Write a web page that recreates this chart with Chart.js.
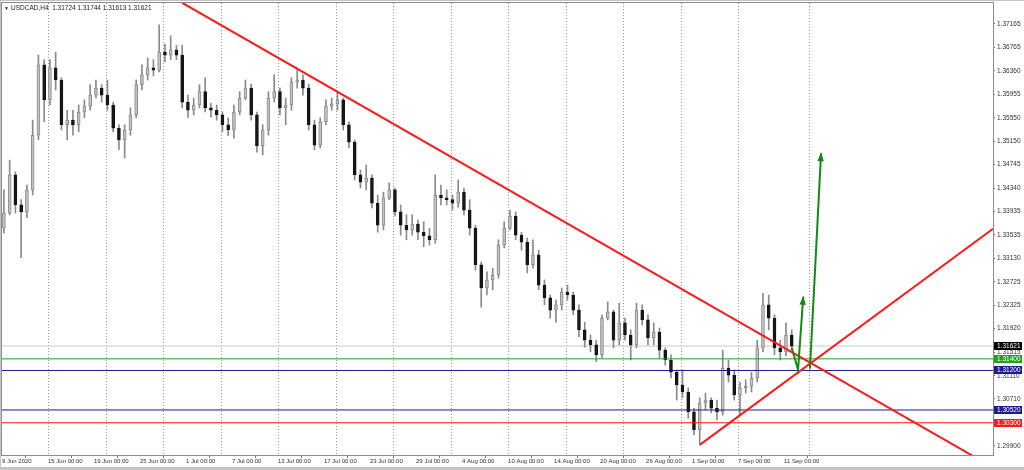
<!DOCTYPE html>
<html>
<head>
<meta charset="utf-8">
<script src="https://cdn.jsdelivr.net/npm/chart.js@4.4.1/dist/chart.umd.min.js"></script>
<style>
  html, body { margin: 0; padding: 0; background: #fff; }
  #wrap { width: 1024px; height: 470px; }
</style>
</head>
<body>
<div id="wrap"><canvas id="c" width="1024" height="470"></canvas></div>
<script>
// USDCAD H4, 9 Jun - 11 Sep 2020 (each candle here groups three H4 bars)
const symbolName = 'USDCAD,H4';
const lastQuote = [1.31724, 1.31744, 1.31613, 1.31621];

const opens = [
  1.3365, 1.3391, 1.3457, 1.3405, 1.3393, 1.3431, 1.3525, 1.3646, 1.3586, 1.3641,
  1.3620, 1.3543, 1.3551, 1.3543, 1.3565, 1.3575, 1.3594, 1.3606, 1.3594, 1.3577,
  1.3537, 1.3517, 1.3534, 1.3560, 1.3612, 1.3629, 1.3641, 1.3637, 1.3668, 1.3663,
  1.3672, 1.3663, 1.3582, 1.3568, 1.3577, 1.3600, 1.3572, 1.3568, 1.3560, 1.3543,
  1.3534, 1.3565, 1.3589, 1.3606, 1.3560, 1.3507, 1.3534, 1.3589, 1.3600, 1.3572,
  1.3577, 1.3617, 1.3620, 1.3606, 1.3543, 1.3508, 1.3548, 1.3575, 1.3579, 1.3586,
  1.3543, 1.3513, 1.3457, 1.3444, 1.3451, 1.3408, 1.3370, 1.3417, 1.3431, 1.3393,
  1.3370, 1.3362, 1.3372, 1.3358, 1.3352, 1.3345, 1.3422, 1.3417, 1.3414, 1.3408,
  1.3427, 1.3396, 1.3365, 1.3302, 1.3262, 1.3276, 1.3284, 1.3336, 1.3365, 1.3386,
  1.3353, 1.3341, 1.3302, 1.3319, 1.3267, 1.3245, 1.3224, 1.3233, 1.3255, 1.3250,
  1.3224, 1.3190, 1.3172, 1.3164, 1.3147, 1.3210, 1.3221, 1.3172, 1.3202, 1.3181,
  1.3164, 1.3224, 1.3207, 1.3176, 1.3186, 1.3155, 1.3138, 1.3117, 1.3095, 1.3083,
  1.3049, 1.3018, 1.3064, 1.3069, 1.3055, 1.3049, 1.3124, 1.3112, 1.3078, 1.3090,
  1.3093, 1.3107, 1.3159, 1.3233, 1.3210, 1.3159, 1.3152, 1.3181
];
const highs = [
  1.3431, 1.3482, 1.3462, 1.3414, 1.3439, 1.3551, 1.3663, 1.3655, 1.3655, 1.3668,
  1.3624, 1.3568, 1.3568, 1.3577, 1.3586, 1.3612, 1.3620, 1.3612, 1.3620, 1.3582,
  1.3543, 1.3543, 1.3572, 1.3620, 1.3646, 1.3658, 1.3655, 1.3715, 1.3682, 1.3696,
  1.3680, 1.3680, 1.3594, 1.3589, 1.3612, 1.3624, 1.3580, 1.3577, 1.3565, 1.3555,
  1.3577, 1.3600, 1.3620, 1.3613, 1.3565, 1.3543, 1.3600, 1.3629, 1.3606, 1.3589,
  1.3624, 1.3641, 1.3629, 1.3613, 1.3551, 1.3555, 1.3586, 1.3589, 1.3600, 1.3589,
  1.3548, 1.3517, 1.3465, 1.3474, 1.3457, 1.3422, 1.3427, 1.3443, 1.3434, 1.3405,
  1.3388, 1.3388, 1.3379, 1.3376, 1.3365, 1.3457, 1.3439, 1.3431, 1.3422, 1.3448,
  1.3434, 1.3414, 1.3370, 1.3307, 1.3290, 1.3296, 1.3345, 1.3376, 1.3396, 1.3393,
  1.3358, 1.3348, 1.3345, 1.3327, 1.3276, 1.3250, 1.3241, 1.3262, 1.3267, 1.3255,
  1.3233, 1.3203, 1.3181, 1.3172, 1.3216, 1.3238, 1.3224, 1.3236, 1.3210, 1.3190,
  1.3236, 1.3233, 1.3216, 1.3202, 1.3193, 1.3159, 1.3147, 1.3121, 1.3121, 1.3090,
  1.3055, 1.3073, 1.3081, 1.3073, 1.3069, 1.3155, 1.3138, 1.3121, 1.3100, 1.3104,
  1.3117, 1.3172, 1.3253, 1.3250, 1.3216, 1.3172, 1.3202, 1.3190
];
const lows = [
  1.3357, 1.3388, 1.3391, 1.3314, 1.3383, 1.3422, 1.3517, 1.3548, 1.3577, 1.3603,
  1.3534, 1.3517, 1.3525, 1.3531, 1.3555, 1.3568, 1.3589, 1.3582, 1.3568, 1.3531,
  1.3500, 1.3486, 1.3525, 1.3555, 1.3603, 1.3620, 1.3627, 1.3634, 1.3651, 1.3655,
  1.3655, 1.3572, 1.3555, 1.3560, 1.3572, 1.3565, 1.3556, 1.3551, 1.3531, 1.3524,
  1.3520, 1.3560, 1.3586, 1.3551, 1.3496, 1.3491, 1.3525, 1.3582, 1.3560, 1.3543,
  1.3568, 1.3606, 1.3594, 1.3534, 1.3500, 1.3503, 1.3543, 1.3568, 1.3568, 1.3534,
  1.3503, 1.3448, 1.3434, 1.3431, 1.3400, 1.3358, 1.3362, 1.3414, 1.3386, 1.3353,
  1.3345, 1.3353, 1.3345, 1.3333, 1.3336, 1.3339, 1.3405, 1.3405, 1.3396, 1.3401,
  1.3388, 1.3353, 1.3293, 1.3229, 1.3250, 1.3259, 1.3279, 1.3331, 1.3362, 1.3345,
  1.3327, 1.3288, 1.3296, 1.3259, 1.3233, 1.3210, 1.3203, 1.3224, 1.3241, 1.3216,
  1.3178, 1.3160, 1.3152, 1.3135, 1.3141, 1.3207, 1.3159, 1.3164, 1.3172, 1.3138,
  1.3159, 1.3198, 1.3164, 1.3164, 1.3141, 1.3129, 1.3107, 1.3069, 1.3073, 1.3038,
  1.3009, 1.2992, 1.3052, 1.3047, 1.3035, 1.3043, 1.3100, 1.3069, 1.3043, 1.3081,
  1.3083, 1.3100, 1.3152, 1.3190, 1.3147, 1.3138, 1.3145, 1.3155
];
const closes = [
  1.3391, 1.3457, 1.3405, 1.3393, 1.3431, 1.3525, 1.3646, 1.3586, 1.3641, 1.3620,
  1.3543, 1.3551, 1.3543, 1.3565, 1.3575, 1.3594, 1.3606, 1.3594, 1.3577, 1.3537,
  1.3517, 1.3534, 1.3560, 1.3612, 1.3629, 1.3641, 1.3637, 1.3668, 1.3663, 1.3672,
  1.3663, 1.3582, 1.3568, 1.3577, 1.3600, 1.3572, 1.3568, 1.3560, 1.3543, 1.3534,
  1.3565, 1.3589, 1.3606, 1.3560, 1.3507, 1.3534, 1.3589, 1.3600, 1.3572, 1.3577,
  1.3617, 1.3620, 1.3606, 1.3543, 1.3508, 1.3548, 1.3575, 1.3579, 1.3586, 1.3543,
  1.3513, 1.3457, 1.3444, 1.3451, 1.3408, 1.3370, 1.3417, 1.3431, 1.3393, 1.3370,
  1.3362, 1.3372, 1.3358, 1.3352, 1.3345, 1.3422, 1.3417, 1.3414, 1.3408, 1.3427,
  1.3396, 1.3365, 1.3302, 1.3262, 1.3276, 1.3284, 1.3336, 1.3365, 1.3386, 1.3353,
  1.3341, 1.3302, 1.3319, 1.3267, 1.3245, 1.3224, 1.3233, 1.3255, 1.3250, 1.3224,
  1.3190, 1.3172, 1.3164, 1.3147, 1.3210, 1.3221, 1.3172, 1.3202, 1.3181, 1.3164,
  1.3224, 1.3207, 1.3176, 1.3186, 1.3155, 1.3138, 1.3117, 1.3095, 1.3083, 1.3049,
  1.3018, 1.3064, 1.3069, 1.3055, 1.3049, 1.3124, 1.3112, 1.3078, 1.3090, 1.3093,
  1.3107, 1.3159, 1.3233, 1.3210, 1.3159, 1.3152, 1.3181, 1.3162
];

// price axis labels (as printed on the right scale)
const priceTicks = [1.37165, 1.36765, 1.36360, 1.35955, 1.35550, 1.35150, 1.34745, 1.34340,
  1.33935, 1.33535, 1.33130, 1.32725, 1.32325, 1.31920, 1.31515, 1.31110, 1.30710, 1.30305, 1.29900];

// time axis: position in H4 bars from 9 Jun 00:00
const timeTickBars = [0, 24, 48, 72, 96, 120, 144, 168, 192, 216, 240, 264, 288, 312, 336, 360, 384, 408];
const timeTickLabels = ['9 Jun 2020', '15 Jun 00:00', '19 Jun 00:00', '25 Jun 00:00', '1 Jul 00:00',
  '7 Jul 00:00', '13 Jul 00:00', '17 Jul 00:00', '23 Jul 00:00', '29 Jul 00:00', '4 Aug 00:00',
  '10 Aug 00:00', '14 Aug 00:00', '20 Aug 00:00', '26 Aug 00:00', '1 Sep 00:00', '7 Sep 00:00', '11 Sep 00:00'];
const gridBars = [24, 54, 84, 114, 144, 174, 204, 234, 264, 294, 324, 354, 384, 421];

// horizontal levels
const levelPrices = [1.31400, 1.31200, 1.30520, 1.30300];
const levelColors = ['#22a022', '#1c1c8c', '#1c1c8c', '#ff1a1a'];
const bidPrice = 1.31621;

// drawn objects: [bar, price]
const trendDown = [[94, 1.3753], [507, 1.2972]];
const trendUp = [[364, 1.2992], [517, 1.3364]];
const arrowSmall = [[412, 1.3159], [415.3, 1.3121], [418, 1.3247]];
const arrowBig = [[421.5, 1.3123], [427.3, 1.3494]];

const xMax = 517;
const yMin = 1.29745, yMax = 1.37526;
const FONT = '"Liberation Sans", Arial, sans-serif';

const candleBar = opens.map((_, i) => i * 3 + 1);
const isUp = i => closes[i] >= opens[i];
const pts = arr => arr.map(p => ({ x: p[0], y: p[1] }));
const hline = (y) => [{ x: 0, y }, { x: xMax, y }];

const lineDs = (data, color, width, order, extra) => Object.assign({
  type: 'line', data, borderColor: color, borderWidth: width, pointRadius: 0,
  tension: 0, fill: false, order
}, extra || {});

const datasets = [
  lineDs(hline(bidPrice), '#c8c8c8', 1, 9),
  {
    type: 'bar', order: 6, grouped: false, barThickness: 1,
    data: candleBar.map((b, i) => ({ x: b, y: [lows[i], highs[i]] })),
    backgroundColor: '#8a8a8a'
  },
  {
    type: 'bar', order: 5, grouped: false, barThickness: 3, borderSkipped: false, borderWidth: 1,
    data: candleBar.map((b, i) => ({ x: b, y: [opens[i], closes[i]] })),
    backgroundColor: ctx => isUp(ctx.dataIndex) ? '#c4c4c4' : '#161616',
    borderColor: ctx => isUp(ctx.dataIndex) ? '#8a8a8a' : '#161616'
  },
  ...levelPrices.map((p, k) => lineDs(hline(p), levelColors[k], 1, 3)),
  lineDs(pts(trendDown), '#ff1a1a', 2, 2),
  lineDs(pts(trendUp), '#ff1a1a', 2, 2),
  lineDs(pts(arrowSmall), '#138a13', 2, 1, { arrow: true }),
  lineDs(pts(arrowBig), '#138a13', 2, 1, { arrow: true })
];

const mtPlugin = {
  id: 'mt',
  beforeDraw(chart) {
    const { ctx, width, height } = chart;
    ctx.save();
    ctx.fillStyle = '#ffffff';
    ctx.fillRect(0, 0, width, height);
    ctx.fillStyle = '#c4c4c4';
    ctx.fillRect(0, height - 3, width, 3);
    ctx.fillRect(0, 0, width, 1);
    ctx.fillRect(0, 0, 1, height);
    ctx.restore();
  },
  beforeDatasetsDraw(chart) {
    const { ctx, chartArea: a, scales: { x } } = chart;
    ctx.save();
    ctx.strokeStyle = '#9a9a9a';
    ctx.lineWidth = 1;
    ctx.setLineDash([1, 2]);
    gridBars.forEach(b => {
      const px = Math.round(x.getPixelForValue(b)) + 0.5;
      ctx.beginPath();
      ctx.moveTo(px, a.top);
      ctx.lineTo(px, a.bottom);
      ctx.stroke();
    });
    ctx.restore();
  },
  afterDatasetsDraw(chart) {
    const { ctx } = chart;
    chart.data.datasets.forEach((ds, di) => {
      if (!ds.arrow) return;
      const pe = chart.getDatasetMeta(di).data;
      const p2 = pe[pe.length - 1], p1 = pe[pe.length - 2];
      const ang = Math.atan2(p2.y - p1.y, p2.x - p1.x);
      const len = 8, half = 3.2;
      ctx.save();
      ctx.translate(p2.x, p2.y);
      ctx.rotate(ang);
      ctx.fillStyle = ds.borderColor;
      ctx.beginPath();
      ctx.moveTo(1, 0);
      ctx.lineTo(-len, -half);
      ctx.lineTo(-len, half);
      ctx.closePath();
      ctx.fill();
      ctx.restore();
    });
  },
  afterDraw(chart) {
    const { ctx, chartArea: a, scales: { y } } = chart;
    ctx.save();
    // frame
    ctx.strokeStyle = '#8c8c8c';
    ctx.lineWidth = 1;
    ctx.strokeRect(a.left - 0.5, a.top - 0.5, a.right - a.left + 1, a.bottom - a.top + 1);
    // symbol line
    ctx.fillStyle = '#222';
    ctx.font = '5px ' + FONT;
    ctx.textBaseline = 'middle';
    ctx.fillText('\u25BC', 4, 8.5);
    ctx.font = '6.5px ' + FONT;
    ctx.fillText(symbolName + '  ' + lastQuote.map(v => v.toFixed(5)).join(' '), 11, 8.5);
    // price boxes on the scale
    const boxes = [[bidPrice, '#000000']].concat(levelPrices.map((p, k) => [p, levelColors[k]]));
    boxes.forEach(([p, col]) => {
      const py = Math.round(y.getPixelForValue(p));
      ctx.fillStyle = col;
      ctx.fillRect(a.right + 1, py - 4, 28, 8);
      ctx.fillStyle = '#ffffff';
      ctx.font = '6.5px ' + FONT;
      ctx.textBaseline = 'middle';
      ctx.fillText(p.toFixed(5), a.right + 4, py + 0.5);
    });
    ctx.restore();
  }
};

new Chart(document.getElementById('c'), {
  type: 'bar',
  data: { datasets },
  options: {
    responsive: false,
    animation: false,
    devicePixelRatio: 1,
    layout: { padding: { left: 2, top: 3, right: 0, bottom: 0 } },
    plugins: { legend: { display: false }, tooltip: { enabled: false } },
    scales: {
      x: {
        type: 'linear', offset: false, min: 0, max: xMax,
        grid: { drawOnChartArea: false, tickLength: 3, color: '#777' },
        border: { color: '#8c8c8c' },
        ticks: {
          autoSkip: false, maxRotation: 0, align: 'start', padding: 0,
          color: '#333', font: { family: FONT, size: 6 },
          callback: (v, i) => timeTickLabels[i]
        },
        afterBuildTicks: s => { s.ticks = timeTickBars.map(v => ({ value: v })); },
        afterFit: s => { s.height = 15; s.paddingLeft = 0; s.paddingRight = 0; }
      },
      y: {
        type: 'linear', position: 'right', min: yMin, max: yMax,
        grid: { drawOnChartArea: false, tickLength: 2, color: '#777' },
        border: { color: '#8c8c8c' },
        ticks: {
          autoSkip: false, padding: 2,
          color: '#333', font: { family: FONT, size: 6.5 },
          callback: v => v.toFixed(5)
        },
        afterBuildTicks: s => { s.ticks = priceTicks.map(v => ({ value: v })); },
        afterFit: s => { s.width = 31; s.paddingTop = 0; s.paddingBottom = 0; }
      }
    }
  },
  plugins: [mtPlugin]
});
</script>
</body>
</html>
